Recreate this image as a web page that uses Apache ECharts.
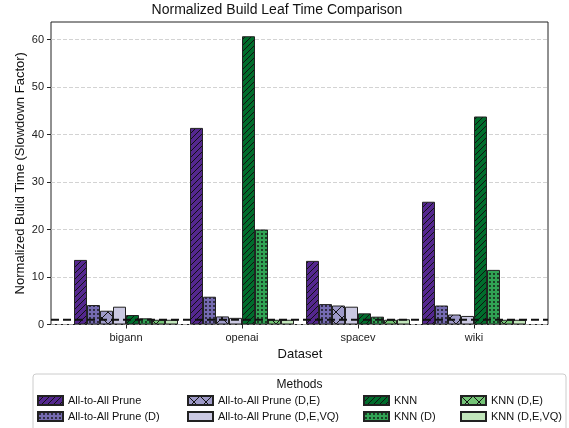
<!DOCTYPE html>
<html>
<head>
<meta charset="utf-8">
<script src="https://cdn.jsdelivr.net/npm/echarts@6/dist/echarts.min.js"></script>
<style>
html,body{margin:0;padding:0;background:#fff;}
#chart{width:569px;height:428px;}
</style>
</head>
<body>
<div id="chart"></div>
<script>
// ---- data ----
const categories = ['bigann', 'openai', 'spacev', 'wiki'];
const methodNames = [
  'All-to-All Prune', 'All-to-All Prune (D)', 'All-to-All Prune (D,E)', 'All-to-All Prune (D,E,VQ)',
  'KNN', 'KNN (D)', 'KNN (D,E)', 'KNN (D,E,VQ)'
];
const a2a      = [13.6, 41.4, 13.4, 25.85];
const a2aD     = [4.1, 5.85, 4.3, 4.0];
const a2aDE    = [2.9, 1.7, 4.0, 2.1];
const a2aDEVQ  = [3.75, 1.4, 3.75, 1.8];
const knn      = [2.0, 60.7, 2.35, 43.8];
const knnD     = [1.3, 20.0, 1.65, 11.5];
const knnDE    = [1.0, 1.0, 1.0, 1.0];
const knnDEVQ  = [1.0, 1.0, 1.1, 1.0];
const yTicks   = [0, 10, 20, 30, 40, 50, 60];
const baselineValue = 1;

const seriesValues = [a2a, a2aD, a2aDE, a2aDEVQ, knn, knnD, knnDE, knnDEVQ];
const seriesColors = ['#54278f', '#756bb1', '#9e9ac8', '#cbc9e2', '#006d2c', '#31a354', '#74c476', '#c2e6bb'];
const seriesHatch  = ['//', '..', 'x', '', '//', '..', 'x', ''];

function hatchFill(color, hatch) {
  if (!hatch) return color;
  const s = hatch === 'x' ? 12 : (hatch === '//' ? 6 : 4);
  const c = document.createElement('canvas');
  c.width = s; c.height = s;
  const g = c.getContext('2d');
  g.fillStyle = color; g.fillRect(0, 0, s, s);
  g.strokeStyle = '#111'; g.fillStyle = '#111'; g.lineWidth = 1;
  if (hatch === '//') {
    g.beginPath();
    g.moveTo(-1, s + 1); g.lineTo(s + 1, -1);
    g.moveTo(-1, 1); g.lineTo(1, -1);
    g.moveTo(s - 1, s + 1); g.lineTo(s + 1, s - 1);
    g.stroke();
  } else if (hatch === 'x') {
    g.beginPath();
    g.moveTo(0, s); g.lineTo(s, 0);
    g.moveTo(0, 0); g.lineTo(s, s);
    g.stroke();
  } else {
    g.beginPath(); g.arc(2, 2, 0.9, 0, Math.PI * 2); g.fill();
  }
  return { image: c, repeat: 'repeat' };
}

const FONT = "'Liberation Sans', Arial, Helvetica, sans-serif";
const yMax = 63.7;

const barSeries = methodNames.map((name, i) => ({
  name: name,
  type: 'bar',
  xAxisIndex: 1, yAxisIndex: 1,
  barWidth: 13,
  barGap: '0%',
  data: seriesValues[i],
  itemStyle: { color: hatchFill(seriesColors[i], seriesHatch[i]), borderColor: '#222', borderWidth: 1 },
  emphasis: { disabled: true },
  z: 2
}));

const legendX = [37, 37, 187, 187, 363, 363, 460, 460];
const legendY = [395, 411, 395, 411, 395, 411, 395, 411];
const legends = methodNames.map((name, i) => ({
  data: [name],
  left: legendX[i], top: legendY[i],
  itemWidth: 25, itemHeight: 9, padding: 0, itemGap: 0,
  icon: 'rect',
  selectedMode: false,
  textStyle: { fontSize: 11, color: '#111', fontFamily: FONT },
  z: 10
}));

const option = {
  animation: false,
  textStyle: { fontFamily: FONT },
  grid: [
    { left: 51, top: 22, width: 497, height: 302.5, show: true, borderColor: '#222', borderWidth: 1, backgroundColor: 'transparent' },
    { left: 68, top: 22, width: 464, height: 302.5 }
  ],
  xAxis: [
    { gridIndex: 0, type: 'value', min: 0, max: 1, show: false },
    {
      gridIndex: 1, type: 'category', data: categories,
      axisLine: { show: false },
      axisTick: { show: true, alignWithLabel: true, length: 4, lineStyle: { color: '#222' } },
      axisLabel: { fontSize: 11, color: '#222', margin: 8, fontFamily: FONT },
      splitLine: { show: false },
      name: 'Dataset', nameLocation: 'middle', nameGap: 21,
      nameTextStyle: { fontSize: 13, color: '#111', fontFamily: FONT }
    }
  ],
  yAxis: [
    {
      gridIndex: 0, type: 'value', min: 0, max: yMax,
      axisLine: { show: false },
      axisTick: { show: true, length: 4, lineStyle: { color: '#222' }, customValues: yTicks },
      axisLabel: { fontSize: 11, color: '#222', margin: 7, fontFamily: FONT, customValues: yTicks },
      splitLine: { show: true, lineStyle: { color: '#c8c8c8', width: 0.8, type: [4, 2] } },
      name: 'Normalized Build Time (Slowdown Factor)', nameLocation: 'middle', nameGap: 24,
      nameMoveOverlap: false,
      nameTextStyle: { fontSize: 13, color: '#111', fontFamily: FONT }
    },
    { gridIndex: 1, type: 'value', min: 0, max: yMax, show: false }
  ],
  legend: legends,
  graphic: [
    { type: 'text', x: 277, y: 10,
      style: { text: 'Normalized Build Leaf Time Comparison', fontSize: 14, fill: '#111', fontFamily: FONT, textAlign: 'center', textVerticalAlign: 'middle' } },
    { type: 'rect', shape: { x: 33, y: 374, width: 533, height: 70, r: 3 },
      style: { fill: '#fff', stroke: '#cccccc', lineWidth: 1 }, z: 0 },
    { type: 'text', x: 299.5, y: 385,
      style: { text: 'Methods', fontSize: 12, fill: '#111', fontFamily: FONT, textAlign: 'center', textVerticalAlign: 'middle' }, z: 1 }
  ],
  series: barSeries.concat([{
    name: 'baseline', type: 'line', xAxisIndex: 0, yAxisIndex: 0,
    data: [[0, baselineValue], [1, baselineValue]],
    symbol: 'none', silent: true,
    lineStyle: { color: '#111', width: 2, type: [8, 4] },
    z: 5
  }])
};

const chart = echarts.init(document.getElementById('chart'), null, { renderer: 'canvas' });
chart.setOption(option);
</script>
</body>
</html>
